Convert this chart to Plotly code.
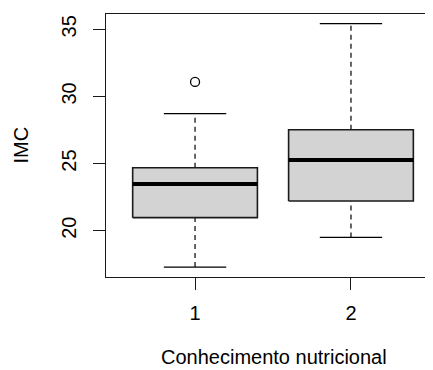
import plotly.graph_objects as go

# ---- data ----
groups = ["1", "2"]
positions = [1, 2]
lower_whisker = [17.29, 19.50]
q1 = [20.97, 22.21]
median = [23.47, 25.26]
q3 = [24.69, 27.52]
upper_whisker = [28.72, 35.42]
outlier_pos = [1]
outlier_val = [31.08]

y_ticks = [20, 25, 30, 35]
x_title = "Conhecimento nutricional"
y_title = "IMC"

box_half = 0.4
cap_half = 0.2
FONT = "Liberation Sans, Arial, sans-serif"
FS = 20

# page has 8px body margin -> figure sized to fit the window
W, H = 425, 362
ML, MR, MT, MB = 98, 0, 6, 93
PW, PH = W - ML - MR, H - MT - MB

fig = go.Figure()

for i, x in enumerate(positions):
    # dashed whiskers
    fig.add_trace(go.Scatter(x=[x, x], y=[q3[i], upper_whisker[i]], mode="lines",
                             line=dict(color="black", width=1.2, dash="5px,4px"),
                             hoverinfo="skip", showlegend=False))
    fig.add_trace(go.Scatter(x=[x, x], y=[lower_whisker[i], q1[i]], mode="lines",
                             line=dict(color="black", width=1.2, dash="5px,4px"),
                             hoverinfo="skip", showlegend=False))
    # caps
    for v in (upper_whisker[i], lower_whisker[i]):
        fig.add_trace(go.Scatter(x=[x - cap_half, x + cap_half], y=[v, v], mode="lines",
                                 line=dict(color="black", width=1.3),
                                 hoverinfo="skip", showlegend=False))
    # box
    fig.add_trace(go.Scatter(x=[x - box_half, x + box_half, x + box_half, x - box_half, x - box_half],
                             y=[q1[i], q1[i], q3[i], q3[i], q1[i]], mode="lines",
                             fill="toself", fillcolor="#D3D3D3",
                             line=dict(color="#1a1a1a", width=1.6),
                             hoverinfo="skip", showlegend=False))
    # median
    fig.add_trace(go.Scatter(x=[x - box_half, x + box_half], y=[median[i], median[i]], mode="lines",
                             line=dict(color="black", width=4),
                             hoverinfo="skip", showlegend=False))

# outliers
fig.add_trace(go.Scatter(x=outlier_pos, y=outlier_val, mode="markers",
                         marker=dict(symbol="circle-open", size=9, color="black", line=dict(width=1.3)),
                         hoverinfo="skip", showlegend=False))

fig.update_layout(
    width=W, height=H,
    margin=dict(l=ML, r=MR, t=MT, b=MB, autoexpand=False),
    paper_bgcolor="white", plot_bgcolor="white",
    font=dict(family=FONT, size=FS, color="black"),
    annotations=[
        dict(text=x_title, xref="paper", yref="paper",
             x=(273.75 - 106) / PW, y=-(349 - (MT + PH)) / PH,
             xanchor="center", yanchor="middle", showarrow=False,
             font=dict(size=FS)),
        dict(text=y_title, xref="paper", yref="paper",
             x=(12 - ML) / PW, y=0.5, textangle=-90,
             xanchor="center", yanchor="middle", showarrow=False,
             font=dict(size=FS)),
    ],
)
fig.update_xaxes(
    range=[0.429, 2.526], tickvals=positions, ticktext=groups,
    showgrid=False, zeroline=False, automargin=False,
    showline=True, mirror=True, linecolor="#1a1a1a", linewidth=1.3,
    ticks="outside", ticklen=12, tickwidth=1.2, tickcolor="#1a1a1a",
    tickfont=dict(size=FS), ticklabelstandoff=6,
)
fig.update_yaxes(
    range=[16.55, 36.14], tickvals=y_ticks,
    showgrid=False, zeroline=False, automargin=False,
    showline=True, mirror=False, linecolor="#1a1a1a", linewidth=1.3,
    ticks="outside", ticklen=12, tickwidth=1.2, tickcolor="#1a1a1a",
    tickangle=-90, tickfont=dict(size=FS), ticklabelstandoff=9,
)

fig.write_html("out.html")
